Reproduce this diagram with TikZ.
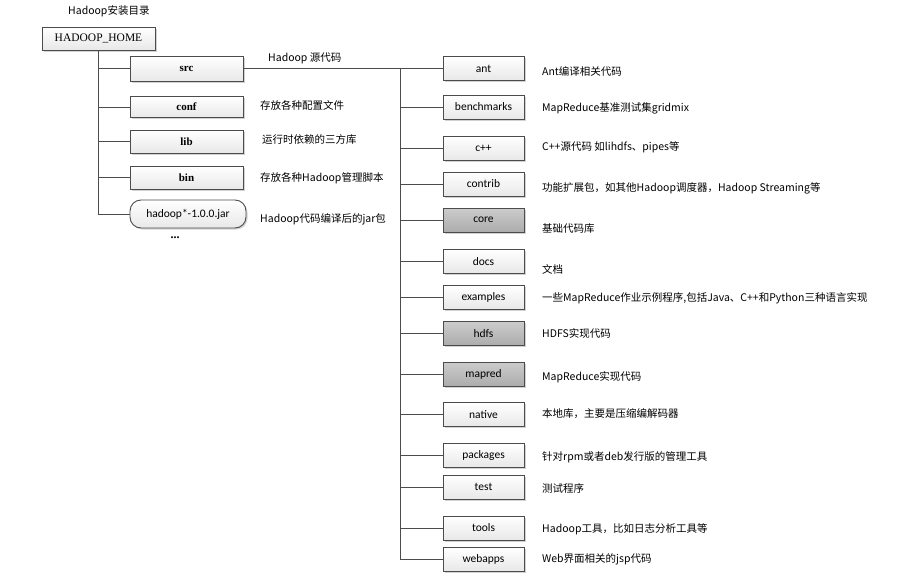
\documentclass[tikz,border=0pt]{standalone}
\usepackage{fontspec}
\setmainfont{Liberation Serif}
\newfontfamily\cjk{Noto Sans CJK SC}
\newfontfamily\boxfont{Carlito}
\usetikzlibrary{shadows}
\tikzset{
  dir/.style={draw=black!70, line width=0.9pt, minimum width=81pt, minimum height=24pt,
    inner sep=0pt, top color=white, bottom color=gray!18,
    drop shadow={shadow xshift=1.5pt, shadow yshift=-1.5pt, fill=gray!70},
    font=\boxfont\fontsize{11.5}{13}\selectfont},
  dirgray/.style={dir, top color=gray!40, bottom color=gray!65},
  topdir/.style={dir, minimum width=113pt, minimum height=25pt,
    font=\bfseries\fontsize{11}{13}\selectfont},
  jarbox/.style={dir, minimum width=116pt, minimum height=28pt, rounded corners=11pt},
  note/.style={anchor=west, inner sep=0pt, font=\cjk\fontsize{10.5}{13}\selectfont},
  link/.style={draw=black!70, line width=0.9pt},
}
\begin{document}
\begin{tikzpicture}[x=1pt, y=-1pt]
    \useasboundingbox (0,0) rectangle (920,581);
    % LEFT: install directory
        \node[note] (title) at (68,11) {Hadoop安装目录};
        \node[topdir, minimum height=23pt, font=\fontsize{11.5}{13}\selectfont] (home) at (98.5,38.5) {HADOOP\_HOME};
        \node[topdir] (src) at (186.5,68.5) {src};
        \node[topdir, minimum height=21pt] (conf) at (186.5,107) {conf};
        \node[topdir, minimum height=23pt] (lib) at (186.5,141.5) {lib};
        \node[topdir, minimum height=23pt] (bin) at (186.5,177.5) {bin};
        \node[jarbox] (jar) at (188,214) {hadoop*-1.0.0.jar};
        \node[font=\bfseries\large] (more) at (175,238) {...};
        \foreach \id in {src,conf,lib,bin,jar}
            \draw[link] (home.south) |- (\id.west);
        \node[note] (srcnote) at (268,58) {Hadoop 源代码};
        \node[note] (confnote) at (260,105) {存放各种配置文件};
        \node[note] (libnote) at (262,140) {运行时依赖的三方库};
        \node[note] (binnote) at (260,178) {存放各种Hadoop管理脚本};
        \node[note] (jarnote) at (260,219) {Hadoop代码编译后的jar包};

    % RIGHT: src subdirectories
        \coordinate (bus) at (400,68.5);
        \foreach \id/\y/\lbl/\st/\ny/\txt in {
            ant/68.5/ant/dir/71/{Ant编译相关代码},
            bench/107/benchmarks/dir/108/{MapReduce基准测试集gridmix},
            cpp/148/c++/dir/147/{C++源代码 如lihdfs、pipes等},
            contrib/184/contrib/dir/188/{功能扩展包，如其他Hadoop调度器，Hadoop Streaming等},
            core/220/core/dirgray/229/{基础代码库},
            docs/261.5/docs/dir/269/{文档},
            examples/297.5/examples/dir/298/{一些MapReduce作业示例程序,包括Java、C++和Python三种语言实现},
            hdfs/333.5/hdfs/dirgray/333/{HDFS实现代码},
            mapred/374/mapred/dirgray/377/{MapReduce实现代码},
            native/414.5/native/dir/414/{本地库，主要是压缩编解码器},
            packages/455.5/packages/dir/457/{针对rpm或者deb发行版的管理工具},
            test/487/test/dir/488/{测试程序},
            tools/528/tools/dir/529/{Hadoop工具，比如日志分析工具等},
            webapps/559.5/webapps/dir/559/{Web界面相关的jsp代码}} {
            \node[\st] (\id) at (483.5,\y) {\lbl};
            \node[note] (\id note) at (542,\ny) {\txt};
            \draw[link] (bus) |- (\id.west);
        }
        \draw[link] (src.east) -- (bus);
\end{tikzpicture}
\end{document}
